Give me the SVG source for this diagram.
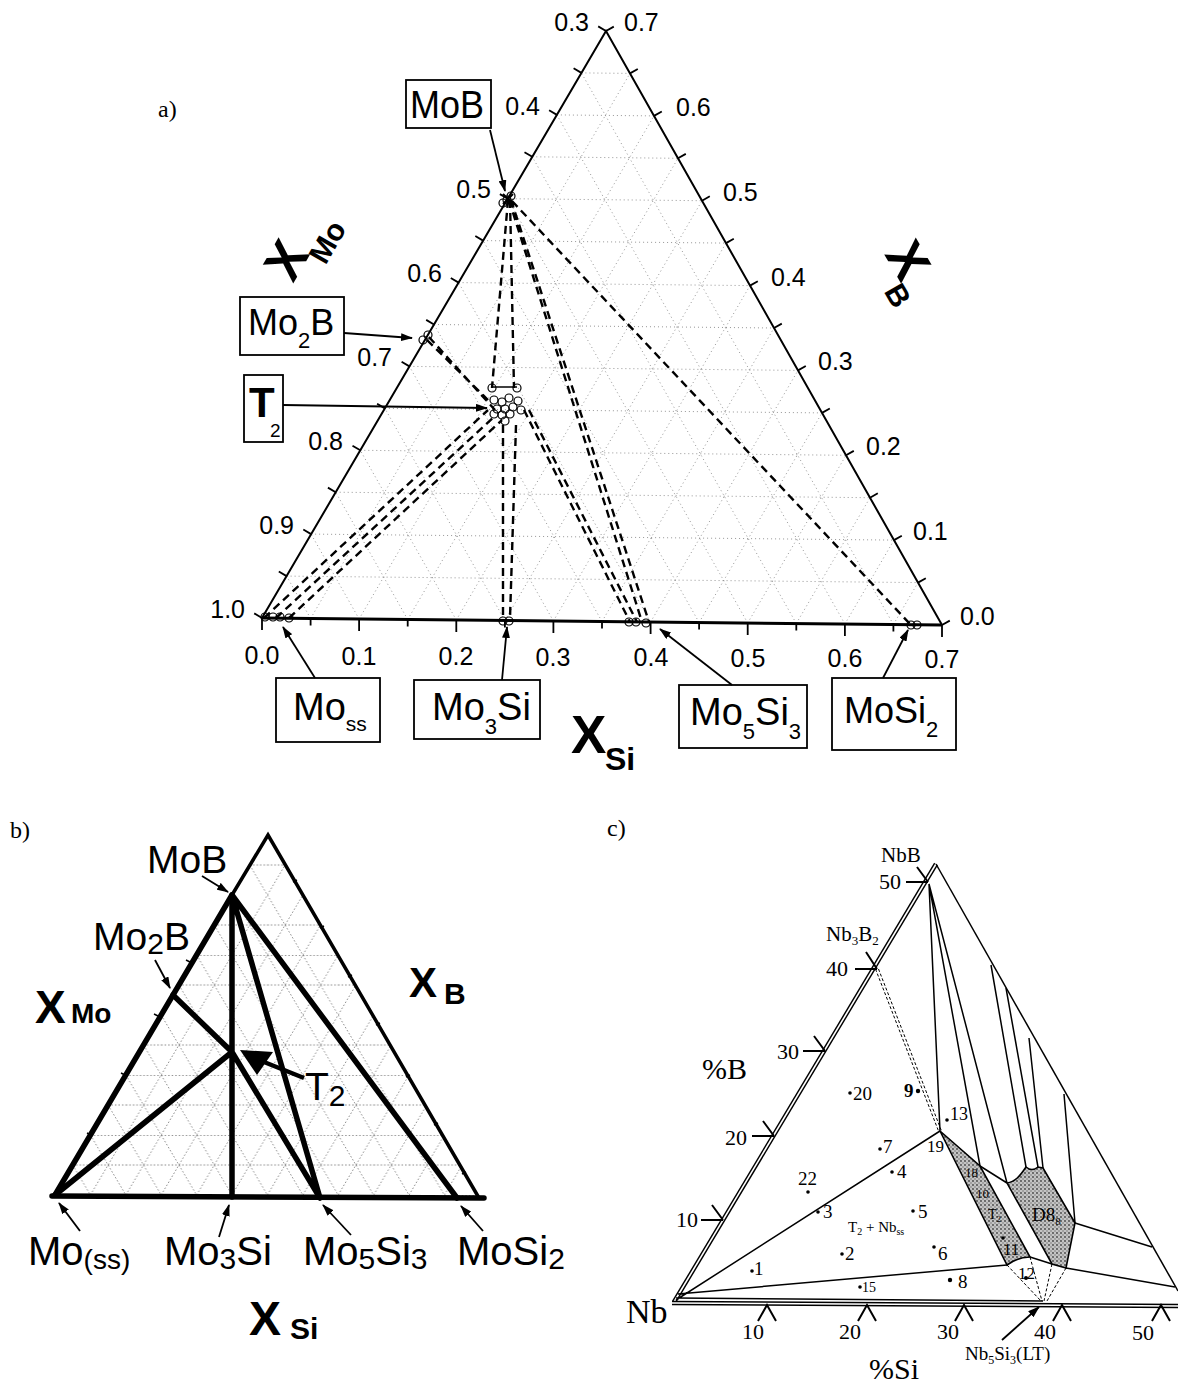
<svg xmlns="http://www.w3.org/2000/svg" width="1178" height="1384" viewBox="0 0 1178 1384">
<defs>
<marker id="ah" viewBox="0 0 12 8" refX="11" refY="4" markerWidth="12" markerHeight="8" markerUnits="userSpaceOnUse" orient="auto"><path d="M0 0L12 4L0 8z" fill="#000"/></marker>
<pattern id="gridB" patternUnits="userSpaceOnUse" x="55" y="1195" width="35.4" height="60">
<path d="M0 0.4H35.4M0 30H35.4M0 60L35.4 0M0 0L35.4 60" stroke="#6a6a6a" stroke-width="0.8" stroke-dasharray="1.5 2" fill="none"/>
</pattern>
<pattern id="stip" patternUnits="userSpaceOnUse" width="4" height="4">
<rect width="4" height="4" fill="#c4c4c4"/><circle cx="1" cy="1" r="0.9" fill="#444"/><circle cx="3" cy="3" r="0.7" fill="#666"/>
</pattern>
</defs>
<style>
.sans{font-family:"Liberation Sans",Arial,sans-serif}
.serif{font-family:"Liberation Serif","Times New Roman",serif}
.ax{font-size:25px}
.grid{stroke:#8a8a8a;stroke-width:0.9;stroke-dasharray:1 3;fill:none}
.dash{stroke:#000;stroke-width:2.4;stroke-dasharray:8 5;fill:none}
.pt{fill:none;stroke:#000;stroke-width:1.2}
.box{fill:#fff;stroke:#000;stroke-width:1.8}
.arr{stroke:#000;stroke-width:1.8;fill:none;marker-end:url(#ah)}
.thick{stroke:#000;stroke-width:5.5;stroke-linecap:round;fill:none}
.thin{stroke:#000;stroke-width:1.5;fill:none}
.dot{fill:#000}
</style>
<rect width="1178" height="1384" fill="#fff"/>

<!-- ===================== a) ===================== -->
<g id="a-frame">
<text class="serif" x="158" y="117" font-size="24">a)</text>
<path class="grid" d="M286.6 576.1L918 582.6M311.1 534.1L894 540.1M335.7 492.2L870 497.7M360.3 450.3L846 455.3M384.9 408.4L822 412.9M409.4 366.4L798 370.4M434 324.5L774 328M458.6 282.6L750 285.6M483.1 240.6L726 243.1M507.7 198.7L702 200.7M532.3 156.8L678 158.3M556.9 114.9L654 115.9M581.4 72.9L630 73.4
M310.6 618.5L630 73.4M359.1 619L654 115.9M407.7 619.5L678 158.3M456.3 620L702 200.7M504.9 620.5L726 243.1M553.4 621L750 285.6M602 621.5L774 328M650.6 622L798 370.4M699.1 622.5L822 412.9M747.7 623L846 455.3M796.3 623.5L870 497.7M844.9 624L894 540.1M893.4 624.5L918 582.6
M310.6 618.5L286.6 576.1M359.1 619L311.1 534.1M407.7 619.5L335.7 492.2M456.3 620L360.3 450.3M504.9 620.5L384.9 408.4M553.4 621L409.4 366.4M602 621.5L434 324.5M650.6 622L458.6 282.6M699.1 622.5L483.1 240.6M747.7 623L507.7 198.7M796.3 623.5L532.3 156.8M844.9 624L556.9 114.9M893.4 624.5L581.4 72.9"/>
<path d="M262 618L606 31L942 625" stroke="#000" stroke-width="2" fill="none"/>
<path d="M262 618L942 625" stroke="#000" stroke-width="3" fill="none"/>
<path stroke="#000" stroke-width="1.8" fill="none" d="M262 618l-7.8 -4.6M286.6 576.1l-7.8 -4.6M311.1 534.1l-7.8 -4.6M335.7 492.2l-7.8 -4.6M360.3 450.3l-7.8 -4.6M384.9 408.4l-7.8 -4.6M409.4 366.4l-7.8 -4.6M434 324.5l-7.8 -4.6M458.6 282.6l-7.8 -4.6M483.1 240.6l-7.8 -4.6M507.7 198.7l-7.8 -4.6M532.3 156.8l-7.8 -4.6M556.9 114.9l-7.8 -4.6M581.4 72.9l-7.8 -4.6M606 31l-7.8 -4.6
M942 625l7.8 -4.4M918 582.6l7.8 -4.4M894 540.1l7.8 -4.4M870 497.7l7.8 -4.4M846 455.3l7.8 -4.4M822 412.9l7.8 -4.4M798 370.4l7.8 -4.4M774 328l7.8 -4.4M750 285.6l7.8 -4.4M726 243.1l7.8 -4.4M702 200.7l7.8 -4.4M678 158.3l7.8 -4.4M654 115.9l7.8 -4.4M630 73.4l7.8 -4.4M606 31l7.8 -4.4
M262 618v12M310.6 618.5v7M359.1 619v12M407.7 619.5v7M456.3 620v12M504.9 620.5v7M553.4 621v12M602 621.5v7M650.6 622v12M699.1 622.5v7M747.7 623v12M796.3 623.5v7M844.9 624v12M893.4 624.5v7M942 625v12"/>
<g class="sans ax" text-anchor="end">
<text x="245" y="618">1.0</text><text x="294" y="534">0.9</text><text x="343" y="450">0.8</text><text x="392" y="366">0.7</text><text x="442" y="282">0.6</text><text x="491" y="198">0.5</text><text x="540" y="115">0.4</text><text x="589" y="31">0.3</text>
</g>
<g class="sans ax">
<text x="960" y="625">0.0</text><text x="913" y="540">0.1</text><text x="866" y="455">0.2</text><text x="818" y="370">0.3</text><text x="771" y="286">0.4</text><text x="723" y="201">0.5</text><text x="676" y="116">0.6</text><text x="624" y="31">0.7</text>
</g>
<g class="sans ax" text-anchor="middle">
<text x="262" y="664">0.0</text><text x="359" y="665">0.1</text><text x="456" y="665">0.2</text><text x="553" y="666">0.3</text><text x="651" y="666">0.4</text><text x="748" y="667">0.5</text><text x="845" y="667">0.6</text><text x="942" y="668">0.7</text>
</g>
<g transform="translate(293,284) rotate(-60)" class="sans" font-weight="bold"><text font-size="52">X</text><text x="32" y="19" font-size="30">Mo</text></g>
<g transform="translate(884,254) rotate(60)" class="sans" font-weight="bold"><text font-size="52">X</text><text x="32" y="19" font-size="30">B</text></g>
<g class="sans" font-weight="bold"><text x="571" y="753" font-size="53">X</text><text x="605" y="770" font-size="32">Si</text></g>
</g>

<g id="a-points">
<circle class="pt" cx="503" cy="203" r="4"/><circle class="pt" cx="511" cy="196" r="4"/><circle class="pt" cx="507" cy="200" r="4"/>
<path d="M503 194L513 204M513 194L503 204" stroke="#000" stroke-width="2"/>
<circle class="pt" cx="423" cy="340" r="4"/><circle class="pt" cx="428" cy="335" r="4"/>
<path d="M492 387L517 387" stroke="#000" stroke-width="1.5"/>
<circle class="pt" cx="492" cy="388" r="4"/><circle class="pt" cx="517" cy="388" r="4"/><circle class="pt" cx="494" cy="400" r="4"/><circle class="pt" cx="502" cy="402" r="4"/><circle class="pt" cx="509" cy="398" r="4"/><circle class="pt" cx="518" cy="401" r="4"/><circle class="pt" cx="497" cy="409" r="4"/><circle class="pt" cx="505" cy="409" r="4"/><circle class="pt" cx="513" cy="407" r="4"/><circle class="pt" cx="521" cy="410" r="4"/><circle class="pt" cx="494" cy="414" r="4"/><circle class="pt" cx="502" cy="415" r="4"/><circle class="pt" cx="510" cy="414" r="4"/><circle class="pt" cx="505" cy="421" r="4"/>
<circle class="pt" cx="265" cy="617" r="4"/><circle class="pt" cx="273" cy="617" r="4"/><circle class="pt" cx="280" cy="617" r="4"/><circle class="pt" cx="289" cy="618" r="4"/>
<circle class="pt" cx="503" cy="621" r="4"/><circle class="pt" cx="509" cy="621" r="4"/>
<circle class="pt" cx="629" cy="622" r="4"/><circle class="pt" cx="636" cy="622" r="4"/><circle class="pt" cx="646" cy="623" r="4"/>
<circle class="pt" cx="911" cy="625" r="4"/><circle class="pt" cx="917" cy="625" r="4"/>
</g>

<g id="a-labels" class="sans">
<g id="a-MoB"><rect class="box" x="406" y="80" width="85" height="48"/><text x="410" y="118" font-size="38" textLength="74" lengthAdjust="spacingAndGlyphs">MoB</text></g>
<g id="a-Mo2B"><rect class="box" x="240" y="297" width="104" height="58"/><text x="248" y="335" font-size="36">Mo<tspan font-size="22" dy="13">2</tspan><tspan dy="-13">B</tspan></text></g>
<g id="a-T2"><rect class="box" x="244" y="375" width="39" height="67"/><text x="249" y="417" font-size="42" font-weight="bold">T</text><text x="270" y="437" font-size="19">2</text></g>
<g id="a-Moss"><rect class="box" x="276" y="678" width="104" height="64"/><text x="293" y="720" font-size="38">Mo<tspan font-size="21" dy="11">ss</tspan></text></g>
<g id="a-Mo3Si"><rect class="box" x="414" y="680" width="126" height="59"/><text x="432" y="720" font-size="38">Mo<tspan font-size="22" dy="14">3</tspan><tspan dy="-14">Si</tspan></text></g>
<g id="a-Mo5Si3"><rect class="box" x="679" y="685" width="128" height="63"/><text x="690" y="725" font-size="38">Mo<tspan font-size="22" dy="14">5</tspan><tspan dy="-14">Si</tspan><tspan font-size="22" dy="14">3</tspan></text></g>
<g id="a-MoSi2"><rect class="box" x="832" y="678" width="124" height="72"/><text x="844" y="723" font-size="36">MoSi<tspan font-size="22" dy="14">2</tspan></text></g>
</g>

<g id="a-connectors">
<path class="dash" d="M508 200L492 388M510 200L514 388M509 200L642 622M511 200L649 622M512 201L910 624"/>
<path class="dash" d="M427 340L488 400M429 337L495 410"/>
<path class="dash" d="M264 618L488 410M276 618L495 416M289 618L502 420"/>
<path class="dash" d="M503 425L503 618M516 425L510 618"/>
<path class="dash" d="M524 410L630 622M529 410L637 622"/>
<path class="arr" d="M490 130L505 191"/>
<path class="arr" d="M344 333L412 338"/>
<path class="arr" d="M283 405L487 408"/>
<path class="arr" d="M315 678L283 627"/>
<path class="arr" d="M502 680L507 627"/>
<path class="arr" d="M732 685L660 629"/>
<path class="arr" d="M883 678L908 630"/>
</g>

<!-- ===================== b) ===================== -->
<g id="b-frame">
<text class="serif" x="10" y="838" font-size="24">b)</text>
<path d="M55 1195L268 835L479 1198Z" fill="url(#gridB)"/>
<path d="M232 895L268 835L479 1198" stroke="#000" stroke-width="3.5" fill="none" stroke-linejoin="miter"/>
<path d="M55 1195L232 895" class="thick" stroke-width="5"/>
<path d="M52 1196L484 1198" class="thick" stroke-width="5.5"/>
<path stroke="#000" stroke-width="1.5" d="M186 960l4 2M154 1014l4 2M121 1073l4 2M87 1133l4 2M297 880l-4 2M324 926l-4 2M352 975l-4 2M380 1023l-4 2M410 1075l-4 2M438 1123l-4 2M466 1172l-4 2"/>
<g class="sans" font-weight="bold">
<text x="35" y="1023" font-size="46">X</text><text x="71" y="1023" font-size="28">Mo</text>
<text x="409" y="997" font-size="42">X</text><text x="444" y="1004" font-size="30">B</text>
<text x="249" y="1335" font-size="48">X</text><text x="290" y="1339" font-size="30">Si</text>
</g>
</g>
<g id="b-labels" class="sans" font-size="39">
<text id="b-MoB" x="147" y="873">MoB</text>
<text id="b-Mo2B" x="93" y="950">Mo<tspan font-size="30" dy="4">2</tspan><tspan dy="-4">B</tspan></text>
<text id="b-T2" x="305" y="1100">T<tspan font-size="30" dy="6">2</tspan></text>
<text id="b-Moss" x="28" y="1265" font-size="40">Mo<tspan font-size="28" dy="4">(ss)</tspan></text>
<text id="b-Mo3Si" x="164" y="1265" font-size="40">Mo<tspan font-size="30" dy="4">3</tspan><tspan dy="-4">Si</tspan></text>
<text id="b-Mo5Si3" x="303" y="1265" font-size="40">Mo<tspan font-size="30" dy="4">5</tspan><tspan dy="-4">Si</tspan><tspan font-size="30" dy="4">3</tspan></text>
<text id="b-MoSi2" x="457" y="1265" font-size="40">MoSi<tspan font-size="30" dy="4">2</tspan></text>
</g>
<g id="b-connectors">
<path class="thick" d="M232 895L232 1197M232 895L320 1198M232 895L457 1198M173 995L232 1052M55 1195L232 1052M232 1052L320 1198"/>
<path d="M304 1078L264 1062" stroke="#000" stroke-width="4.5"/>
<path d="M240 1050L273 1052L257 1075Z" fill="#000"/>
<path class="arr" d="M202 876L228 892"/>
<path class="arr" d="M155 960L170 988"/>
<path class="arr" d="M80 1231L59 1203"/>
<path class="arr" d="M219 1237L229 1205"/>
<path class="arr" d="M351 1235L323 1205"/>
<path class="arr" d="M483 1231L461 1206"/>
</g>

<!-- ===================== c) ===================== -->
<g id="c-frame">
<text class="serif" x="607" y="836" font-size="24">c)</text>
<path d="M674 1302L936 864" stroke="#000" stroke-width="4.5" fill="none"/>
<path d="M674 1302L936 864" stroke="#fff" stroke-width="1.6" fill="none"/>
<path d="M936 864L1178 1291" class="thin"/>
<path d="M672 1303L1178 1306" stroke="#000" stroke-width="4.5" fill="none"/>
<path d="M672 1303L1178 1306" stroke="#fff" stroke-width="1.4" fill="none"/>
<path stroke="#000" stroke-width="2" fill="none" d="M906 882H928M917 867L928 882M855 969H877M866 952L877 969M803 1051H825M814 1036L825 1051M752 1136H774M763 1121L774 1136M701 1220H723M712 1205L723 1220
M758 1321L767 1305L776 1321M858 1321L867 1305L876 1321M955 1321L964 1305L973 1321M1053 1321L1062 1305L1071 1321M1152 1321L1161 1305L1170 1321"/>
<g class="serif" font-size="22">
<text x="881" y="862" font-size="21">NbB</text>
<text x="879" y="889">50</text>
<text x="826" y="941" font-size="21">Nb<tspan font-size="13" dy="4">3</tspan><tspan dy="-4">B</tspan><tspan font-size="13" dy="4">2</tspan></text>
<text x="826" y="976">40</text>
<text x="702" y="1079" font-size="30">%B</text>
<text x="777" y="1059">30</text>
<text x="725" y="1145">20</text>
<text x="676" y="1227">10</text>
<text x="626" y="1323" font-size="34">Nb</text>
<text x="742" y="1339">10</text><text x="839" y="1339">20</text><text x="937" y="1339">30</text><text x="1034" y="1339">40</text><text x="1132" y="1340">50</text>
<text x="965" y="1360" font-size="19">Nb<tspan font-size="12" dy="4">5</tspan><tspan dy="-4">Si</tspan><tspan font-size="12" dy="4">3</tspan><tspan dy="-4">(LT)</tspan></text>
<text x="869" y="1379" font-size="30">%Si</text>
</g>
</g>

<g id="c-regions">
<path id="c-T2" d="M940 1131L980 1166L1030 1257Q1018 1257 1007 1265Z" fill="url(#stip)" stroke="#000" stroke-width="1.6"/>
<path id="c-D8" d="M1007 1183C1015 1182 1020 1176 1026 1167Q1032 1172 1038 1167L1043 1168L1075 1223L1066 1268L1052 1264Z" fill="url(#stip)" stroke="#000" stroke-width="1.6"/>
</g>

<g id="c-connectors">
<path class="thin" stroke-width="1.6" d="M676 1300L940 1131M929 884L940 1131M929 884L980 1166M929 884L1007 1183M980 1166L1007 1183M991 965L1026 1167M1006 988L1038 1167M1029 1038L1043 1168M1064 1094L1075 1223M1075 1223L1152 1247M1066 1268L1175 1287M678 1294L1007 1265M676 1298L1043 1301M1030 1257L1052 1264"/>
<path d="M875.5 969L938.5 1131M878.5 969L941.5 1131" stroke="#000" stroke-width="1" stroke-dasharray="3 2" fill="none"/>
<path d="M1007 1265L1041 1301M1030 1257L1042 1301M1052 1264L1044 1301M1066 1268L1047 1301" stroke="#000" stroke-width="1" stroke-dasharray="3 2" fill="none"/>
<path class="arr" stroke-width="1.4" d="M1002 1340L1039 1307"/>
</g>

<g id="c-points">
<circle class="dot" cx="850" cy="1093" r="1.8"/><circle class="dot" cx="918" cy="1091" r="2.2"/><circle class="dot" cx="947" cy="1120" r="1.8"/><circle class="dot" cx="880" cy="1149" r="1.8"/><circle class="dot" cx="892" cy="1172" r="1.8"/><circle class="dot" cx="808" cy="1192" r="1.8"/><circle class="dot" cx="818" cy="1212" r="1.8"/><circle class="dot" cx="913" cy="1211" r="1.8"/><circle class="dot" cx="842" cy="1254" r="1.8"/><circle class="dot" cx="934" cy="1247" r="1.8"/><circle class="dot" cx="752" cy="1271" r="1.8"/><circle class="dot" cx="860" cy="1287" r="1.8"/><circle class="dot" cx="950" cy="1280" r="2.2"/><circle class="dot" cx="1003" cy="1238" r="1.8"/><circle class="dot" cx="1026" cy="1278" r="2"/>
<g class="serif" font-size="19">
<text x="853" y="1100">20</text><text x="904" y="1097" font-weight="bold">9</text><text x="950" y="1120" font-size="18">13</text><text x="883" y="1153">7</text><text x="927" y="1152" font-size="17">19</text><text x="897" y="1178">4</text><text x="798" y="1185">22</text><text x="823" y="1218">3</text><text x="918" y="1218">5</text><text x="845" y="1260">2</text><text x="938" y="1260">6</text><text x="754" y="1275">1</text><text x="862" y="1292" font-size="14">15</text><text x="958" y="1288">8</text>
<text x="965" y="1177" font-size="13">18</text><text x="976" y="1198" font-size="13">10</text><text x="988" y="1219" font-size="14">T<tspan font-size="9" dy="3">2</tspan></text><text x="1003" y="1255" font-size="17">11</text><text x="1018" y="1279" font-size="17">12</text>
<text x="1032" y="1221">D8<tspan font-size="11" dy="4">8</tspan></text>
<text x="848" y="1232" font-size="15">T<tspan font-size="10" dy="3">2</tspan><tspan dy="-3"> + Nb</tspan><tspan font-size="10" dy="3">ss</tspan></text>
</g>
</g>
</svg>
